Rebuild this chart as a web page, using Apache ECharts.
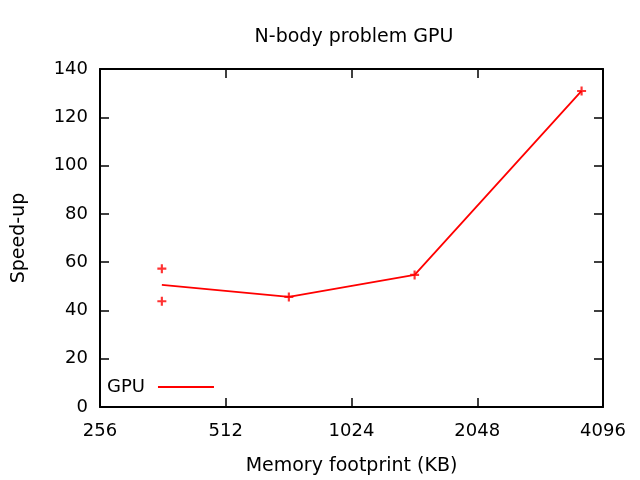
<!DOCTYPE html>
<html>
<head>
<meta charset="utf-8">
<script src="https://cdn.jsdelivr.net/npm/echarts@6/dist/echarts.min.js"></script>
<style>html,body{margin:0;padding:0;background:#fff;}#c{width:640px;height:480px;}</style>
</head>
<body>
<div id="c"></div>
<script>
const lineX = [360, 725, 1450, 3640];
const lineY = [50.6, 45.6, 54.7, 130.9];
const pointX = [360, 360, 725, 1450, 3640];
const pointY = [57.3, 43.8, 45.6, 54.7, 130.9];
const xTicks = [256, 512, 1024, 2048, 4096];
const seriesName = 'GPU';

const FONT = 'DejaVu Sans';
const chart = echarts.init(document.getElementById('c'), null, {renderer: 'canvas'});
const axisBase = {
  axisLine: {show: true, onZero: false, lineStyle: {color: '#000', width: 2}},
  axisTick: {show: true, inside: true, length: 9, lineStyle: {color: '#000', width: 1.5}},
  splitLine: {show: false},
  minorTick: {show: false}
};
chart.setOption({
  animation: false,
  backgroundColor: '#fff',
  title: {
    text: 'N-body problem GPU', left: 349, top: 23, textAlign: 'center',
    textStyle: {fontFamily: FONT, fontSize: 19, fontWeight: 'normal', color: '#000'}
  },
  legend: {
    left: 102, top: 373, align: 'right', itemWidth: 56, itemHeight: 2, itemGap: 0, icon: 'rect',
    textStyle: {fontFamily: FONT, fontSize: 18, color: '#000', padding: [0, 8, 0, 0]},
    data: [{name: seriesName}]
  },
  grid: {left: 100, right: 37, top: 69, bottom: 73, outerBoundsMode: 'none', containLabel: false},
  xAxis: [
    Object.assign({}, axisBase, {
      type: 'log', logBase: 2, min: xTicks[0], max: xTicks[xTicks.length - 1], position: 'bottom',
      name: 'Memory footprint (KB)', nameLocation: 'middle', nameGap: 50,
      nameTextStyle: {fontFamily: FONT, fontSize: 19, color: '#000'},
      axisLabel: {fontFamily: FONT, fontSize: 18, color: '#000', margin: 15, showMinLabel: true, showMaxLabel: true,
        formatter: v => String(Math.round(v))}
    }),
    Object.assign({}, axisBase, {
      type: 'log', logBase: 2, min: xTicks[0], max: xTicks[xTicks.length - 1], position: 'top',
      axisLabel: {show: false}
    })
  ],
  yAxis: [
    Object.assign({}, axisBase, {
      type: 'value', min: 0, max: 140, interval: 20, position: 'left',
      name: 'Speed-up', nameLocation: 'middle', nameGap: 71, nameRotate: 90,
      nameTextStyle: {fontFamily: FONT, fontSize: 19, color: '#000'},
      axisLabel: {fontFamily: FONT, fontSize: 18, color: '#000', margin: 12}
    }),
    Object.assign({}, axisBase, {
      type: 'value', min: 0, max: 140, interval: 20, position: 'right',
      axisLabel: {show: false}
    })
  ],
  series: [
    {
      name: seriesName, type: 'line', xAxisIndex: 0, yAxisIndex: 0,
      data: lineX.map((x, i) => [x, lineY[i]]),
      symbol: 'none', lineStyle: {color: '#ff0000', width: 1.8}, itemStyle: {color: '#ff0000'}
    },
    {
      name: 'points', type: 'scatter', xAxisIndex: 0, yAxisIndex: 0,
      data: pointX.map((x, i) => [x, pointY[i]]),
      symbol: 'path://M3.8,0H6.2V3.8H10V6.2H6.2V10H3.8V6.2H0V3.8H3.8Z', symbolSize: 9,
      itemStyle: {color: '#ff0000'}
    }
  ]
});
</script>
</body>
</html>
